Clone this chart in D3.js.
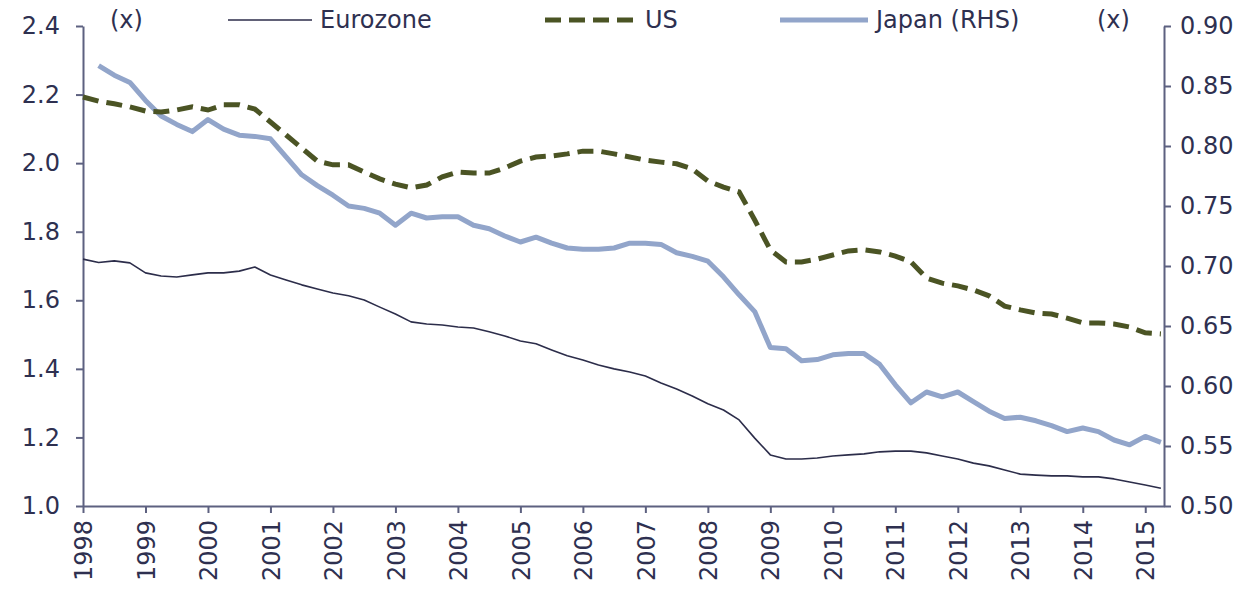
<!DOCTYPE html>
<html>
<head>
<meta charset="utf-8">
<script src="https://cdn.jsdelivr.net/npm/d3@7"></script>
<style>
  body { margin: 0; background: #fff; }
  text { font-family: "DejaVu Sans", Verdana, sans-serif; fill: #2e3050; }
</style>
</head>
<body>
<script>
let w = 1252;
let h = 593;

// quarterly observations, 1998 Q1 .. 2015 Q2
let quarters = d3.range(70).map(function(i) { return 1998 + i / 4; });
let years = d3.range(1998, 2016);

let eurozone = [1.720, 1.710, 1.715, 1.709, 1.680, 1.671, 1.668, 1.674, 1.680, 1.680,
                1.685, 1.697, 1.674, 1.659, 1.645, 1.633, 1.621, 1.613, 1.601, 1.580,
                1.560, 1.537, 1.531, 1.528, 1.522, 1.519, 1.508, 1.496, 1.481, 1.473,
                1.455, 1.438, 1.426, 1.411, 1.400, 1.391, 1.379, 1.359, 1.341, 1.321,
                1.298, 1.280, 1.251, 1.198, 1.149, 1.137, 1.137, 1.140, 1.146, 1.149,
                1.152, 1.158, 1.160, 1.160, 1.155, 1.146, 1.137, 1.125, 1.117, 1.105,
                1.093, 1.090, 1.088, 1.088, 1.085, 1.085, 1.079, 1.070, 1.061, 1.052];

let us = [2.193, 2.181, 2.173, 2.164, 2.152, 2.149, 2.155, 2.164, 2.155, 2.170,
          2.170, 2.158, 2.120, 2.082, 2.044, 2.006, 1.995, 1.995, 1.974, 1.954,
          1.939, 1.928, 1.936, 1.960, 1.974, 1.971, 1.971, 1.986, 2.006, 2.018,
          2.021, 2.027, 2.035, 2.035, 2.027, 2.018, 2.009, 2.003, 1.998, 1.983,
          1.948, 1.930, 1.916, 1.834, 1.747, 1.712, 1.712, 1.720, 1.732, 1.744,
          1.747, 1.741, 1.729, 1.712, 1.665, 1.650, 1.642, 1.630, 1.613, 1.583,
          1.572, 1.563, 1.560, 1.548, 1.534, 1.534, 1.531, 1.522, 1.505, 1.502];

let japan = [null, 0.867, 0.859, 0.853, 0.838, 0.825, 0.818, 0.812, 0.822, 0.814,
             0.809, 0.808, 0.806, 0.791, 0.776, 0.767, 0.759, 0.750, 0.748, 0.744,
             0.734, 0.744, 0.740, 0.741, 0.741, 0.734, 0.731, 0.725, 0.720, 0.724,
             0.719, 0.715, 0.714, 0.714, 0.715, 0.719, 0.719, 0.718, 0.711, 0.708,
             0.704, 0.691, 0.676, 0.662, 0.632, 0.631, 0.621, 0.622, 0.626, 0.627,
             0.627, 0.618, 0.601, 0.586, 0.595, 0.591, 0.595, 0.587, 0.579, 0.573,
             0.574, 0.571, 0.567, 0.562, 0.565, 0.562, 0.555, 0.551, 0.558, 0.553];

let leftTicks = [1.0, 1.2, 1.4, 1.6, 1.8, 2.0, 2.2, 2.4];
let rightTicks = [0.50, 0.55, 0.60, 0.65, 0.70, 0.75, 0.80, 0.85, 0.90];

let plotLeft = 83, plotRight = 1164, plotTop = 26, plotBottom = 506;
let axisColor = "#5d6180";

let xScale = d3.scaleLinear()
               .domain([1998, 2015.3])
               .range([plotLeft, plotRight]);
let yLeft = d3.scaleLinear()
              .domain([1.0, 2.4])
              .range([plotBottom, plotTop]);
let yRight = d3.scaleLinear()
               .domain([0.50, 0.90])
               .range([plotBottom, plotTop]);

let svg = d3.select("body")
            .append("svg")
            .attr("width", w)
            .attr("height", h);

// axes
let gx = svg.append("g")
            .attr("transform", "translate(0," + plotBottom + ")")
            .call(d3.axisBottom(xScale)
                    .tickValues(years)
                    .tickFormat(d3.format("d"))
                    .tickSize(7)
                    .tickSizeOuter(0));
gx.selectAll("text")
  .attr("transform", "translate(0,14) rotate(-90)")
  .attr("text-anchor", "end")
  .attr("x", 0)
  .attr("y", 0)
  .attr("dy", "0.36em");

let gl = svg.append("g")
            .attr("transform", "translate(" + plotLeft + ",0)")
            .call(d3.axisLeft(yLeft)
                    .tickValues(leftTicks)
                    .tickFormat(d3.format(".1f"))
                    .tickSize(7)
                    .tickSizeOuter(0)
                    .tickPadding(16));

let gr = svg.append("g")
            .attr("transform", "translate(" + plotRight + ",0)")
            .call(d3.axisRight(yRight)
                    .tickValues(rightTicks)
                    .tickFormat(d3.format(".2f"))
                    .tickSize(7)
                    .tickSizeOuter(0)
                    .tickPadding(9));

svg.selectAll(".domain, .tick line")
   .attr("stroke", axisColor)
   .attr("stroke-width", 2);
svg.selectAll(".tick text")
   .attr("font-family", "DejaVu Sans, Verdana, sans-serif")
   .attr("font-size", "24px")
   .attr("fill", "#2e3050");

// series
let lineLeft = function(values) {
    return d3.line()
             .defined(function(d) { return d != null; })
             .x(function(d, i) { return xScale(quarters[i]); })
             .y(function(d) { return yLeft(d); })(values);
};
let lineRight = function(values) {
    return d3.line()
             .defined(function(d) { return d != null; })
             .x(function(d, i) { return xScale(quarters[i]); })
             .y(function(d) { return yRight(d); })(values);
};

svg.append("path")
   .attr("d", lineRight(japan))
   .attr("fill", "none")
   .attr("stroke", "#92a5ca")
   .attr("stroke-width", 5)
   .attr("stroke-linejoin", "round");

svg.append("path")
   .attr("d", lineLeft(eurozone))
   .attr("fill", "none")
   .attr("stroke", "#2c2d4a")
   .attr("stroke-width", 1.6)
   .attr("stroke-linejoin", "round");

svg.append("path")
   .attr("d", lineLeft(us))
   .attr("fill", "none")
   .attr("stroke", "#4b5424")
   .attr("stroke-width", 5)
   .attr("stroke-dasharray", "16,8");

// legend
let legend = [
    {name: "Eurozone", x1: 228, x2: 312, color: "#2c2d4a", width: 1.6, dash: null},
    {name: "US", x1: 545, x2: 637, color: "#4b5424", width: 5, dash: "16,8"},
    {name: "Japan (RHS)", x1: 780, x2: 868, color: "#92a5ca", width: 5, dash: null}
];
let lg = svg.append("g");
legend.forEach(function(d) {
    lg.append("line")
      .attr("x1", d.x1).attr("x2", d.x2)
      .attr("y1", 20).attr("y2", 20)
      .attr("stroke", d.color)
      .attr("stroke-width", d.width)
      .attr("stroke-dasharray", d.dash);
    lg.append("text")
      .attr("x", d.x2 + 8)
      .attr("y", 28)
      .attr("font-size", "24px")
      .text(d.name);
});

svg.append("text")
   .attr("x", 110).attr("y", 28)
   .attr("font-size", "24px")
   .text("(x)");
svg.append("text")
   .attr("x", 1097).attr("y", 28)
   .attr("font-size", "24px")
   .text("(x)");
</script>
</body>
</html>
